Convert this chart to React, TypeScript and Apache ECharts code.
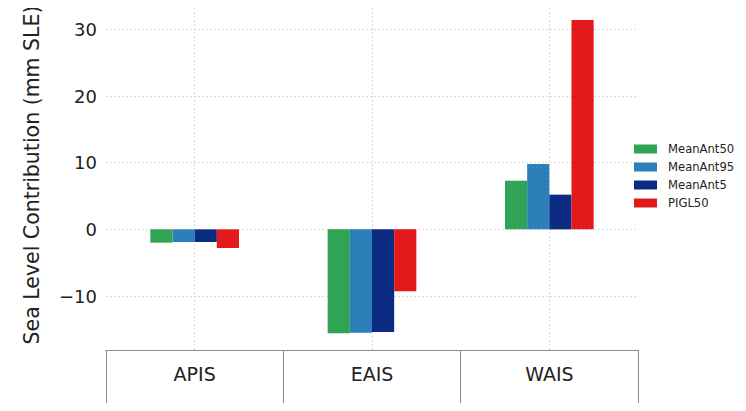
import React, { useEffect, useRef } from "react";
import * as echarts from "echarts";

// Ice-sheet regions along the x axis
const categories = ["APIS", "EAIS", "WAIS"];

// Sea level contribution per region (mm SLE)
const meanAnt50 = [-2.0, -15.6, 7.3];
const meanAnt95 = [-1.9, -15.5, 9.8];
const meanAnt5 = [-1.9, -15.4, 5.2];
const pigl50 = [-2.8, -9.3, 31.4];

const seriesNames = ["MeanAnt50", "MeanAnt95", "MeanAnt5", "PIGL50"];
const seriesValues = [meanAnt50, meanAnt95, meanAnt5, pigl50];
const seriesColors = ["#31a354", "#2c7fb8", "#0c2c84", "#e31a1c"];

// y-axis tick values and extent
const yTicks = [-10, 0, 10, 20, 30];
const yMin = -18.1;
const yMax = 34.4;

const FONT = "DejaVu Sans";

export default function App() {
  const ref = useRef<HTMLDivElement>(null);

  useEffect(() => {
    if (!ref.current) return;
    const chart = echarts.init(ref.current, null, { renderer: "svg" });
    chart.setOption({
      animation: false,
      backgroundColor: "#ffffff",
      textStyle: { fontFamily: FONT },
      grid: {
        left: 106,
        right: 108,
        top: 0,
        bottom: 61,
        containLabel: false,
        outerBoundsMode: "none",
      },
      legend: {
        orient: "vertical",
        left: 634,
        top: 143,
        padding: 0,
        itemWidth: 23,
        itemHeight: 9,
        itemGap: 6,
        icon: "rect",
        data: seriesNames,
        textStyle: {
          fontFamily: FONT,
          fontSize: 11.6,
          lineHeight: 12,
          color: "#222",
          padding: [0, 0, 0, 6],
        },
      },
      xAxis: {
        type: "category",
        data: categories,
        axisLine: {
          show: true,
          onZero: false,
          lineStyle: { color: "#8c8c8c", width: 1 },
        },
        axisTick: {
          show: true,
          length: 60,
          inside: false,
          lineStyle: { color: "#8c8c8c", width: 1 },
        },
        axisLabel: {
          fontFamily: FONT,
          fontSize: 19,
          color: "#222",
          margin: 14,
        },
        splitLine: {
          show: true,
          alignWithLabel: true,
          lineStyle: { color: "#d0d0d0", type: [2, 2], width: 0.8 },
        },
      },
      yAxis: {
        type: "value",
        min: yMin,
        max: yMax,
        name: "Sea Level Contribution (mm SLE)",
        nameLocation: "middle",
        nameGap: 64,
        nameTextStyle: { fontFamily: FONT, fontSize: 20.5, color: "#222" },
        axisLine: { show: false },
        axisTick: { show: false, customValues: yTicks },
        axisLabel: {
          customValues: yTicks,
          fontFamily: FONT,
          fontSize: 18,
          color: "#222",
          margin: 9,
          formatter: (v: number) => (v < 0 ? "\u2212" + Math.abs(v) : String(v)),
        },
        splitLine: {
          show: true,
          lineStyle: { color: "#d0d0d0", type: [2, 2], width: 0.8 },
        },
      },
      series: seriesNames.map((name, i) => ({
        name,
        type: "bar",
        data: seriesValues[i],
        barGap: "0%",
        barCategoryGap: "50%",
        itemStyle: { color: seriesColors[i] },
      })),
    });
    return () => chart.dispose();
  }, []);

  return <div ref={ref} style={{ width: 746, height: 411, margin: -8 }} />;
}
